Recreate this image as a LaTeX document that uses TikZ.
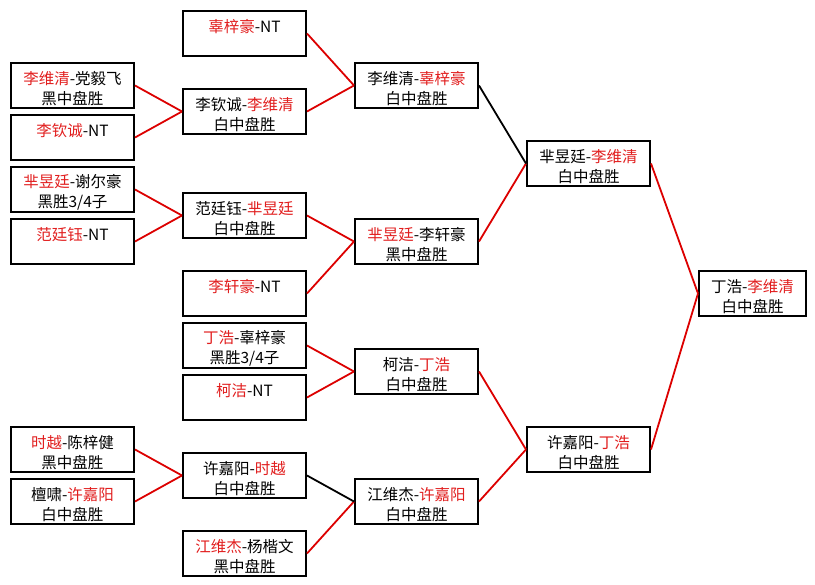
\documentclass[tikz,border=0pt]{standalone}
\usepackage{fontspec}
\setmainfont{Noto Sans CJK SC}
\usetikzlibrary{positioning}
\definecolor{winred}{RGB}{225,30,30}
\definecolor{linered}{RGB}{220,0,0}
\newcommand{\wn}[1]{\textcolor{winred}{#1}}
\newcommand{\match}[2]{\rule{0pt}{19pt}#1\\#2}

\begin{document}
\begin{tikzpicture}[x=1pt,y=-1pt,
  game/.style={draw, line width=2pt, minimum width=123pt, minimum height=45pt,
    inner sep=0pt, align=center, anchor=north west, font=\fontsize{15.5}{20}\selectfont},
  won/.style={draw=linered, line width=1.8pt},
  lost/.style={draw=black, line width=1.8pt}]
\def\colA{10}
\def\colB{182}
\def\colC{354}
\def\colD{526}
\def\colE{698}
\useasboundingbox (0,0) rectangle (815,585);

% first round
\node[game] (a1) at (\colA,62) {\match{\wn{李维清}-党毅飞}{黑中盘胜}};
\node[game] (a2) at (\colA,114) {\match{\wn{李钦诚}-NT}{~}};
\node[game] (a3) at (\colA,166) {\match{\wn{芈昱廷}-谢尔豪}{黑胜3/4子}};
\node[game] (a4) at (\colA,218) {\match{\wn{范廷钰}-NT}{~}};
\node[game] (a5) at (\colA,426) {\match{\wn{时越}-陈梓健}{黑中盘胜}};
\node[game] (a6) at (\colA,478) {\match{檀啸-\wn{许嘉阳}}{白中盘胜}};

% second round
\node[game] (b1) at (\colB,10) {\match{\wn{辜梓豪}-NT}{~}};
\node[game] (b2) at (\colB,88) {\match{李钦诚-\wn{李维清}}{白中盘胜}};
\node[game] (b3) at (\colB,192) {\match{范廷钰-\wn{芈昱廷}}{白中盘胜}};
\node[game] (b4) at (\colB,270) {\match{\wn{李轩豪}-NT}{~}};
\node[game] (b5) at (\colB,322) {\match{\wn{丁浩}-辜梓豪}{黑胜3/4子}};
\node[game] (b6) at (\colB,374) {\match{\wn{柯洁}-NT}{~}};
\node[game] (b7) at (\colB,452) {\match{许嘉阳-\wn{时越}}{白中盘胜}};
\node[game] (b8) at (\colB,530) {\match{\wn{江维杰}-杨楷文}{黑中盘胜}};

% quarter finals
\node[game] (c1) at (\colC,62) {\match{李维清-\wn{辜梓豪}}{白中盘胜}};
\node[game] (c2) at (\colC,218) {\match{\wn{芈昱廷}-李轩豪}{黑中盘胜}};
\node[game] (c3) at (\colC,348) {\match{柯洁-\wn{丁浩}}{白中盘胜}};
\node[game] (c4) at (\colC,478) {\match{江维杰-\wn{许嘉阳}}{白中盘胜}};

% semi finals and final
\node[game] (d1) at (\colD,140) {\match{芈昱廷-\wn{李维清}}{白中盘胜}};
\node[game] (d2) at (\colD,426) {\match{许嘉阳-\wn{丁浩}}{白中盘胜}};
\node[game, minimum width=107pt] (e) at (\colE,270) {\match{丁浩-\wn{李维清}}{白中盘胜}};

\foreach \s/\t in {a1/b2, a2/b2, a3/b3, a4/b3, a5/b7, a6/b7,
  b1/c1, b2/c1, b3/c2, b4/c2, b5/c3, b6/c3, b8/c4,
  c2/d1, c3/d2, c4/d2, d1/e, d2/e}
  \draw[won] (\s.east) -- (\t.west);
\draw[lost] (c1.east) -- (d1.west);
\draw[lost] (b7.east) -- (c4.west);
\end{tikzpicture}
\end{document}
